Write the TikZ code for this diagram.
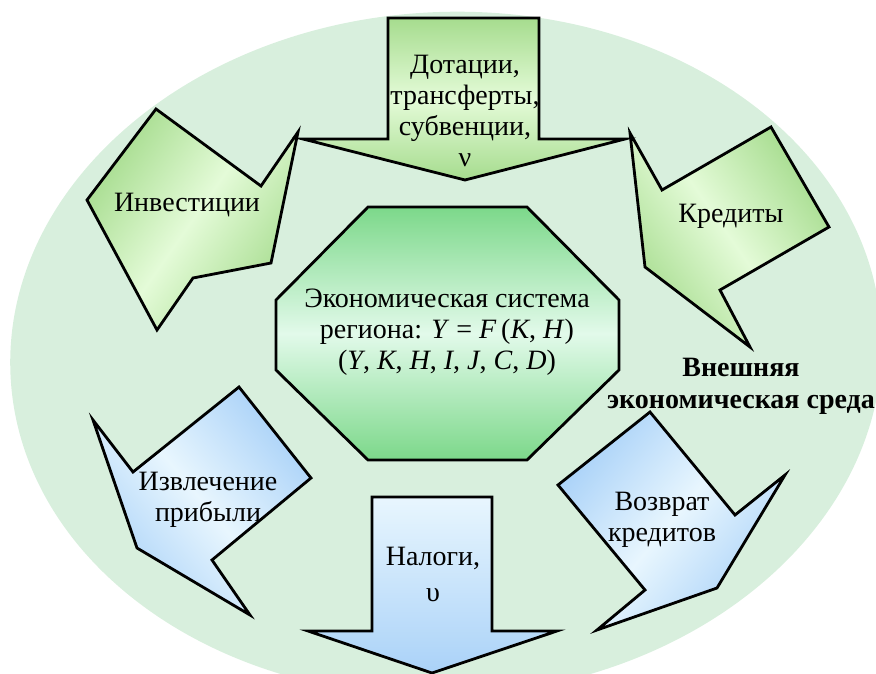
\documentclass[tikz,border=0pt]{standalone}
\usepackage{fontspec}
\setmainfont{Liberation Serif}
\definecolor{envfill}{RGB}{216,239,221}
\definecolor{grdark}{RGB}{166,220,142}
\definecolor{grlight}{RGB}{228,251,216}
\definecolor{bldark}{RGB}{170,210,248}
\definecolor{bllight}{RGB}{232,246,254}
\definecolor{octdark}{RGB}{124,216,138}
\definecolor{octlight}{RGB}{226,250,234}
\tikzset{
    pointer/.style = {draw,line width=2.8pt,line join=miter},
    greenptr/.style = {pointer,top color=grdark,bottom color=grdark,middle color=grlight},
    blueptr/.style = {pointer,top color=bldark,bottom color=bldark,middle color=bllight},
    lbl/.style = {font=\fontsize{28}{31}\selectfont,align=center,inner sep=0pt},
    envlbl/.style = {lbl,font=\fontsize{28}{32}\selectfont\bfseries}
}
\newcommand{\mv}[1]{\textit{#1}}

\begin{document}
\begin{tikzpicture}[x=1pt,y=-1pt]
        \useasboundingbox (0,0) rectangle (876,673);
        % Environment
        \begin{scope}
            \clip (0,0) rectangle (876,673);
            \fill[envfill,rotate around={3:(446,354)}] (446,354) ellipse (436 and 342);
        \end{scope}
        % Incoming pointers
        \draw[greenptr] (388,18) -- (539,18) -- (539,139) -- (625,139)
            -- (465,180) -- (303,139) -- (388,139) -- cycle;
        \draw[greenptr,shading angle=55] (87,200) -- (156,109) -- (261,186) -- (298,132)
            -- (271,263) -- (193,278) -- (157,330) -- cycle;
        \draw[greenptr,shading angle=-55] (630,133) -- (662,190) -- (771,127) -- (829,227)
            -- (720,290) -- (750,347) -- (645,267) -- cycle;
        % Outgoing pointers
        \draw[pointer,top color=bllight,bottom color=bldark] (372,497) -- (492,497) -- (492,631) -- (557,631)
            -- (432,673) -- (308,631) -- (372,631) -- cycle;
        \draw[blueptr,shading angle=-50] (93,420) -- (133,472) -- (239,387) -- (311,478)
            -- (212,560) -- (250,615) -- (137,548) -- cycle;
        \draw[blueptr,shading angle=50] (558,485) -- (650,412) -- (735,515) -- (785,475)
            -- (717,588) -- (597,630) -- (645,590) -- cycle;
        % Regional system
        \draw[pointer,top color=octdark,bottom color=octdark,middle color=octlight]
            (368,207) -- (527,207) -- (619,300) -- (619,370) -- (527,460)
            -- (368,460) -- (276,370) -- (276,300) -- cycle;
        % Labels
        \node[lbl] (subsidy) at (465,111) {Дотации,\\трансферты,\\субвенции,\\ν};
        \node[lbl] (invest) at (187,205) {Инвестиции};
        \node[lbl] (credit) at (731,216) {Кредиты};
        \node[lbl] (system) at (447,332) {Экономическая система\\
            региона: \mv{Y} = \mv{F}\,(\mv{K}, \mv{H})\\
            (\mv{Y}, \mv{K}, \mv{H}, \mv{I}, \mv{J}, \mv{C}, \mv{D})};
        \node[lbl] (profit) at (208,500) {Извлечение\\прибыли};
        \node[lbl] (tax) at (433,574) {Налоги,\\[5pt]υ};
        \node[lbl] (repay) at (662,520) {Возврат\\кредитов};
        \node[envlbl] (env) at (741,386) {Внешняя\\экономическая среда};
\end{tikzpicture}
\end{document}
